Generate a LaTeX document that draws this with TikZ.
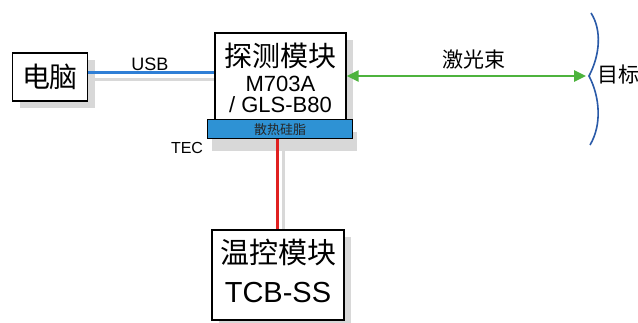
\documentclass[tikz,border=0pt]{standalone}
\usepackage{fontspec}
\setmainfont{Liberation Sans}
\newfontfamily\cjk{Noto Sans CJK SC}
\usetikzlibrary{arrows.meta,shadows}
\definecolor{usbblue}{HTML}{2F7FD6}
\definecolor{barblue}{HTML}{2E92D4}
\definecolor{lasergreen}{HTML}{4DB33D}
\definecolor{tecred}{HTML}{E02020}
\definecolor{wavblue}{HTML}{2A5AA8}
\definecolor{shad}{HTML}{D8D8D8}
\tikzset{
  box/.style={draw=black, line width=1.2pt, fill=white, inner sep=0pt,
    drop shadow={shadow xshift=7pt, shadow yshift=-7pt, fill=shad, opacity=1}},
  lbl/.style={inner sep=0pt},
  shadowline/.style={draw=shad, line width=3pt},
}
\begin{document}
\begin{tikzpicture}[x=1pt,y=-1pt]
\useasboundingbox[fill=white] (0,0) rectangle (638,323);
% shadows of connectors
\draw[shadowline] (90,80) -- (215,80);
\draw[shadowline] (283,140) -- (283,230);
% boxes
\node[box, minimum width=75pt, minimum height=48pt] (pc) at (50,77) {};
\node[lbl, font=\cjk\fontsize{28}{28}\selectfont] (pct) at (pc.center) {电脑};
\node[box, minimum width=131pt, minimum height=87pt] (det) at (280.5,76.5) {};
\node[lbl, font=\cjk\fontsize{28}{28}\selectfont] (dett) at (280.5,56) {探测模块};
\node[lbl, font=\fontsize{22}{22}\selectfont] (m7) at (280.5,83.5) {M703A};
\node[lbl, font=\fontsize{22}{22}\selectfont] (gls) at (280.5,105) {/ GLS-B80};
\node[draw=black, line width=1pt, fill=barblue, minimum width=145pt, minimum height=19pt, inner sep=0pt,
  drop shadow={shadow xshift=4pt, shadow yshift=-12pt, fill=shad, opacity=1}] (bar) at (280,129.5) {};
\node[lbl, font=\cjk\fontsize{13}{13}\selectfont, text=black!85] (bart) at (bar.center) {散热硅脂};
\node[box, minimum width=132pt, minimum height=90pt] (tc) at (278,275) {};
\node[lbl, font=\cjk\fontsize{29}{29}\selectfont] (tct) at (278,252) {温控模块};
\node[lbl, font=\fontsize{29}{29}\selectfont] (tcs) at (278,293) {TCB-SS};
% connectors
\draw[draw=usbblue, line width=3pt] (pc.east |- 0,73) -- (det.west |- 0,73);
\node[lbl, font=\fontsize{18}{18}\selectfont] (usb) at (150,64) {USB};
\draw[draw=tecred, line width=3pt] (bar.south -| 277,0) -- (tc.north -| 277,0);
\node[lbl, font=\fontsize{16}{16}\selectfont] (tec) at (187,148) {TEC};
\coordinate (beam) at (586,76);
\draw[draw=lasergreen, line width=2.5pt, {Triangle[length=12pt,width=11pt]}-{Triangle[length=12pt,width=11pt]}] (det.east |- 0,76) -- (beam);
\node[lbl, font=\cjk\fontsize{21}{21}\selectfont] (laser) at (474,60) {激光束};
% target
\draw[draw=wavblue, line width=1.6pt] (591,13) .. controls (602,30) and (600,55) .. (589,76) .. controls (600,97) and (602,125) .. (590,145);
\node[lbl, font=\cjk\fontsize{21}{21}\selectfont, anchor=west] (tgt) at (597,75) {目标};
\end{tikzpicture}
\end{document}
